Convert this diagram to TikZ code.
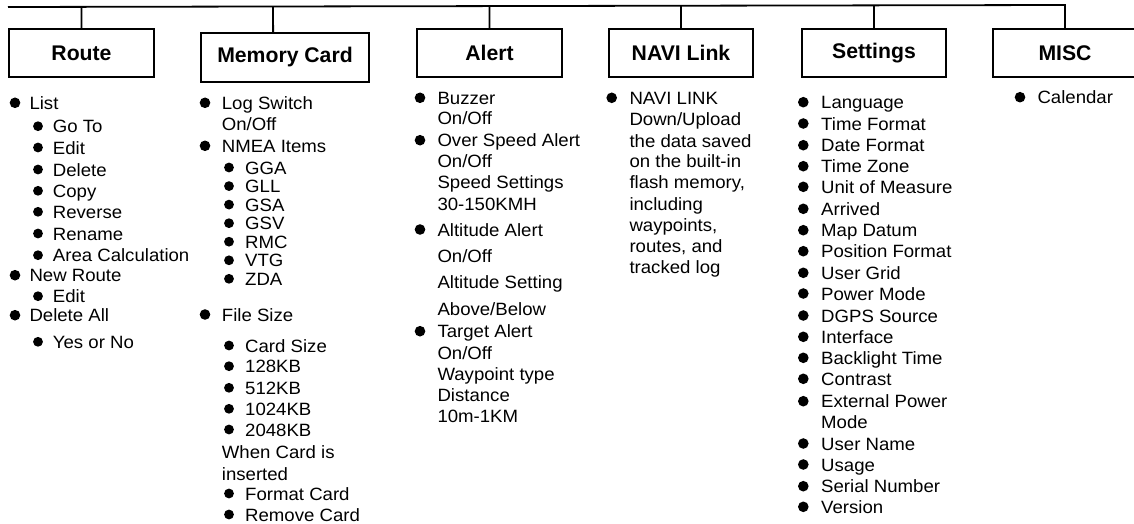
\documentclass[tikz,border=0pt]{standalone}
\usepackage{fontspec}
\setmainfont{Liberation Sans}
\newfontfamily\itemfont{Liberation Sans}[FakeStretch=1.045]
\usetikzlibrary{calc}
\tikzset{
  itemtext/.style={anchor=base west, inner sep=0pt, font=\itemfont\fontsize{17.8}{21}\selectfont},
  boxnode/.style={draw, line width=1.8pt, inner sep=0pt, font=\bfseries\fontsize{21.2}{24}\selectfont},
  conn/.style={line width=1.8pt},
  bul/.style={fill=black}
}
\newcommand\itm[5]{\fill[bul] (#2,#4-6.5) circle (5.3); \node[itemtext] (#1) at (#3,#4) {#5};}
\newcommand\itmb[5]{\fill[bul] (#2,#4-6.5) circle (4.9); \node[itemtext] (#1) at (#3,#4) {#5};}
\newcommand\txl[4]{\node[itemtext] (#1) at (#2,#3) {#4};}
\begin{document}
\begin{tikzpicture}[x=1pt,y=-1pt]
\clip (0,0) rectangle (1134,524);
% boxes
\node[boxnode, minimum width=145, minimum height=48] (route) at (81.5,53) {Route};
\node[boxnode, minimum width=168, minimum height=49] (mem) at (285,57.5) {Memory Card};
\node[boxnode, minimum width=145, minimum height=48] (alert) at (489.5,53) {Alert};
\node[boxnode, minimum width=144, minimum height=48] (navi) at (681,53) {NAVI Link};
\node[boxnode, minimum width=144, minimum height=48] (set) at (874,53) {Settings};
\node[boxnode, minimum width=144, minimum height=48] (misc) at (1065,53) {MISC};
% connectors
\coordinate (tl) at (8,7);
\coordinate (tr) at (1065,5);
\draw[conn] (tl) -- (tr) -- (misc.north);
\draw[conn] (route.north) -- ($(tl)!(route.north)!(tr)$);
\coordinate (mtop) at ($(mem.north west)!0.43!(mem.north east)$);
\draw[conn] (mtop) -- ($(tl)!(mtop)!(tr)$);
\draw[conn] (alert.north) -- ($(tl)!(alert.north)!(tr)$);
\draw[conn] (navi.north) -- ($(tl)!(navi.north)!(tr)$);
\draw[conn] (set.north) -- ($(tl)!(set.north)!(tr)$);
% Route
\itm{r1}{15}{29.3}{109.3}{List}
\itmb{r2}{38}{52.7}{132.7}{Go To}
\itmb{r3}{38}{52.7}{154}{Edit}
\itmb{r4}{38}{52.7}{176}{Delete}
\itmb{r5}{38}{52.7}{197.3}{Copy}
\itmb{r6}{38}{52.7}{218.3}{Reverse}
\itmb{r7}{38}{52.7}{240}{Rename}
\itmb{r8}{38}{52.7}{261.7}{Area Calculation}
\itm{r9}{15}{29.3}{281.7}{New Route}
\itmb{r10}{38}{52.7}{302.7}{Edit}
\itm{r11}{15}{29.3}{321.7}{Delete All}
\itmb{r12}{38}{52.7}{348.3}{Yes or No}
% Memory Card
\itm{m1}{205}{221.7}{109.3}{Log Switch}
\txl{m2}{221.7}{130}{On/Off}
\itm{m3}{205}{221.7}{152.3}{NMEA Items}
\itmb{m4}{229}{245}{174}{GGA}
\itmb{m5}{229}{245}{192.6}{GLL}
\itmb{m6}{229}{245}{211.1}{GSA}
\itmb{m7}{229}{245}{229.7}{GSV}
\itmb{m8}{229}{245}{248.2}{RMC}
\itmb{m9}{229}{245}{266.8}{VTG}
\itmb{m10}{229}{245}{285.3}{ZDA}
\itm{m11}{205}{221.7}{321}{File Size}
\itmb{m12}{229}{245}{352}{Card Size}
\itmb{m13}{229}{245}{372.7}{128KB}
\itmb{m14}{229}{245}{394.3}{512KB}
\itmb{m15}{229}{245}{415.3}{1024KB}
\itmb{m16}{229}{245}{436}{2048KB}
\txl{m17}{221.7}{458.7}{When Card is}
\txl{m18}{221.7}{480}{inserted}
\itmb{m19}{229}{245}{500}{Format Card}
\itmb{m20}{229}{245}{521}{Remove Card}
% Alert
\itm{a1}{420}{437.3}{104.3}{Buzzer}
\txl{a2}{437.3}{124.3}{On/Off}
\itm{a3}{420}{437.3}{146.7}{Over Speed Alert}
\txl{a4}{437.3}{167.7}{On/Off}
\txl{a5}{437.3}{188.7}{Speed Settings}
\txl{a6}{437.3}{210}{30-150KMH}
\itm{a7}{420}{437.3}{236}{Altitude Alert}
\txl{a8}{437.3}{262.7}{On/Off}
\txl{a9}{437.3}{288.7}{Altitude Setting}
\txl{a10}{437.3}{315.3}{Above/Below}
\itm{a11}{420}{437.3}{337.7}{Target Alert}
\txl{a12}{437.3}{359.3}{On/Off}
\txl{a13}{437.3}{380}{Waypoint type}
\txl{a14}{437.3}{401}{Distance}
\txl{a15}{437.3}{422}{10m-1KM}
% NAVI Link
\itm{n1}{611.7}{629.3}{104.3}{NAVI LINK}
\txl{n2}{629.3}{125.3}{Down/Upload}
\txl{n3}{629.3}{147}{the data saved}
\txl{n4}{629.3}{167.7}{on the built-in}
\txl{n5}{629.3}{188.7}{flash memory,}
\txl{n6}{629.3}{210}{including}
\txl{n7}{629.3}{231}{waypoints,}
\txl{n8}{629.3}{252}{routes, and}
\txl{n9}{629.3}{273.3}{tracked log}
% Settings
\itm{s1}{803.3}{821}{108.7}{Language}
\itm{s2}{803.3}{821}{130}{Time Format}
\itm{s3}{803.3}{821}{151.7}{Date Format}
\itm{s4}{803.3}{821}{172.7}{Time Zone}
\itm{s5}{803.3}{821}{193.3}{Unit of Measure}
\itm{s6}{803.3}{821}{215.3}{Arrived}
\itm{s7}{803.3}{821}{236.7}{Map Datum}
\itm{s8}{803.3}{821}{257.7}{Position Format}
\itm{s9}{803.3}{821}{279.3}{User Grid}
\itm{s10}{803.3}{821}{300}{Power Mode}
\itm{s11}{803.3}{821}{322}{DGPS Source}
\itm{s12}{803.3}{821}{343.3}{Interface}
\itm{s13}{803.3}{821}{364.3}{Backlight Time}
\itm{s14}{803.3}{821}{385.3}{Contrast}
\itm{s15}{803.3}{821}{407.7}{External Power}
\txl{s16}{821}{428.7}{Mode}
\itm{s17}{803.3}{821}{450}{User Name}
\itm{s18}{803.3}{821}{471}{Usage}
\itm{s19}{803.3}{821}{492.7}{Serial Number}
\itm{s20}{803.3}{821}{513.3}{Version}
% MISC
\itm{c1}{1020}{1037.3}{103.7}{Calendar}
\end{tikzpicture}
\end{document}
